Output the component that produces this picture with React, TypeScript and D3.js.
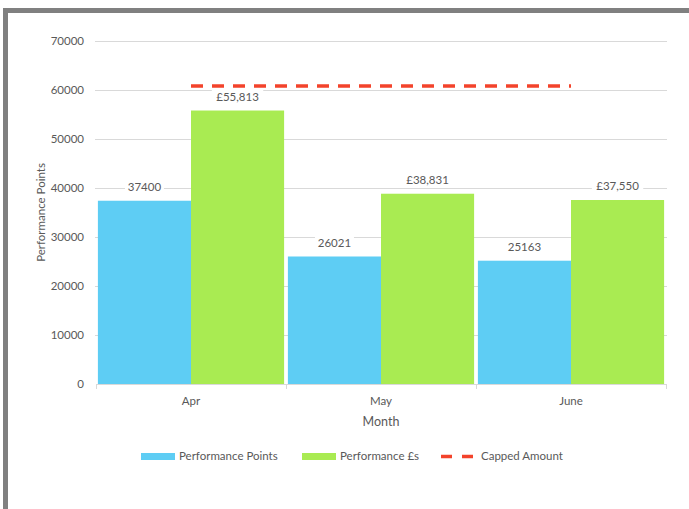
import React from 'react';
import * as d3 from 'd3';

// chart data
const months = ['Apr', 'May', 'June'];
const seriesNames = ['Performance Points', 'Performance £s'];
const performancePoints = [37400, 26021, 25163];
const performancePounds = [55813, 38831, 37550];
const cappedAmount = [60800, 60800, 60800];
const yTicks = [0, 10000, 20000, 30000, 40000, 50000, 60000, 70000];

const W = 689;
const H = 509;
const FONT = 'Lato, "Open Sans", sans-serif';
const TEXT = '#595959';
const GRID = '#d9d9d9';
const COLORS = ['#5ecdf4', '#a9eb52'];
const CAP_COLOR = '#f3432b';
const FS = 11.5;

export default function App() {
  const margin = { top: 41, right: 23, bottom: 125, left: 96 };
  const plotRight = W - margin.right;
  const plotBottom = H - margin.bottom;

  const y = d3.scaleLinear().domain([0, 70000]).range([plotBottom, margin.top]);
  const x = d3.scaleBand<string>()
    .domain(months)
    .range([margin.left, plotRight])
    .paddingInner(0.02)
    .paddingOuter(0.01);
  const xInner = d3.scaleBand<string>().domain(seriesNames).range([0, x.bandwidth()]);

  const values = [performancePoints, performancePounds];
  const fmtPounds = (v: number) => '£' + d3.format(',')(v);
  const fmtPoints = (v: number) => String(v);

  const step = x.step();
  const boundaries = months.map((m) => (x(m) as number) - step * 0.01).concat([plotRight]);

  const capLine = d3.line<number>()
    .x((_, i) => (x(months[i]) as number) + x.bandwidth() / 2)
    .y((d) => y(d));

  const labelW = (s: string) => s.length * 6.2 + 8;

  return (
    <div style={{ position: 'absolute', left: 0, top: 0 }}>
      <svg width={W} height={H} style={{ display: 'block', fontFamily: FONT }}>
        <rect x={0} y={0} width={W} height={H} fill="#fff" />
        {/* frame edges */}
        <rect x={3} y={8} width={W - 3} height={5} fill="#808080" />
        <rect x={3} y={8} width={5} height={H - 8} fill="#808080" />

        {/* gridlines + y ticks */}
        {yTicks.map((t) => (
          <g key={t}>
            {t > 0 && (
              <line x1={margin.left - 1} x2={plotRight + 1} y1={y(t) + 0.5} y2={y(t) + 0.5}
                stroke={GRID} strokeWidth={1} />
            )}
            <text x={84} y={y(t)} dy="0.35em" textAnchor="end" fontSize={FS} fill={TEXT}>{t}</text>
          </g>
        ))}

        {/* bars */}
        {months.map((m, i) => (
          <g key={m} transform={`translate(${x(m)},0)`}>
            {seriesNames.map((s, j) => (
              <rect key={s} x={xInner(s)} y={y(values[j][i])} width={xInner.bandwidth()}
                height={plotBottom - y(values[j][i])} fill={COLORS[j]} />
            ))}
          </g>
        ))}

        {/* x axis */}
        <line x1={margin.left} x2={plotRight} y1={plotBottom + 0.5} y2={plotBottom + 0.5} stroke={GRID} />
        {boundaries.map((b, i) => (
          <line key={i} x1={b + 0.5} x2={b + 0.5} y1={plotBottom} y2={plotBottom + 5} stroke={GRID} />
        ))}
        {months.map((m) => (
          <text key={m} x={(x(m) as number) + x.bandwidth() / 2} y={405} textAnchor="middle"
            fontSize={FS} fill={TEXT}>{m}</text>
        ))}

        {/* capped amount */}
        <path d={capLine(cappedAmount) || ''} fill="none" stroke={CAP_COLOR} strokeWidth={3.5}
          strokeDasharray="12 9" />

        {/* value labels */}
        {months.map((m, i) => (
          <g key={m} transform={`translate(${x(m)},0)`}>
            {seriesNames.map((s, j) => {
              const label = j === 0 ? fmtPoints(values[j][i]) : fmtPounds(values[j][i]);
              const cx = (xInner(s) as number) + xInner.bandwidth() / 2;
              const cy = y(values[j][i]) - 14;
              const lw = labelW(label);
              return (
                <g key={s}>
                  <rect x={cx - lw / 2} y={cy - 8} width={lw} height={16} fill="#fff" />
                  <text x={cx} y={cy} dy="0.35em" textAnchor="middle" fontSize={FS} fill={TEXT}>{label}</text>
                </g>
              );
            })}
          </g>
        ))}

        {/* axis titles */}
        <text transform={`translate(45,${(plotBottom + margin.top) / 2}) rotate(-90)`} textAnchor="middle"
          fontSize={FS} fill={TEXT}>Performance Points</text>
        <text x={(margin.left + plotRight) / 2} y={426} textAnchor="middle" fontSize={12.5} fill={TEXT}>Month</text>

        {/* legend */}
        <g fontSize={FS} fill={TEXT}>
          <rect x={141} y={453} width={34} height={7} fill={COLORS[0]} />
          <text x={179} y={456} dy="0.35em">{seriesNames[0]}</text>
          <rect x={302} y={453} width={34} height={7} fill={COLORS[1]} />
          <text x={340} y={456} dy="0.35em">{seriesNames[1]}</text>
          <line x1={441} x2={474} y1={456.5} y2={456.5} stroke={CAP_COLOR} strokeWidth={3.5} strokeDasharray="11 10" />
          <text x={481} y={456} dy="0.35em">Capped Amount</text>
        </g>
      </svg>
    </div>
  );
}
